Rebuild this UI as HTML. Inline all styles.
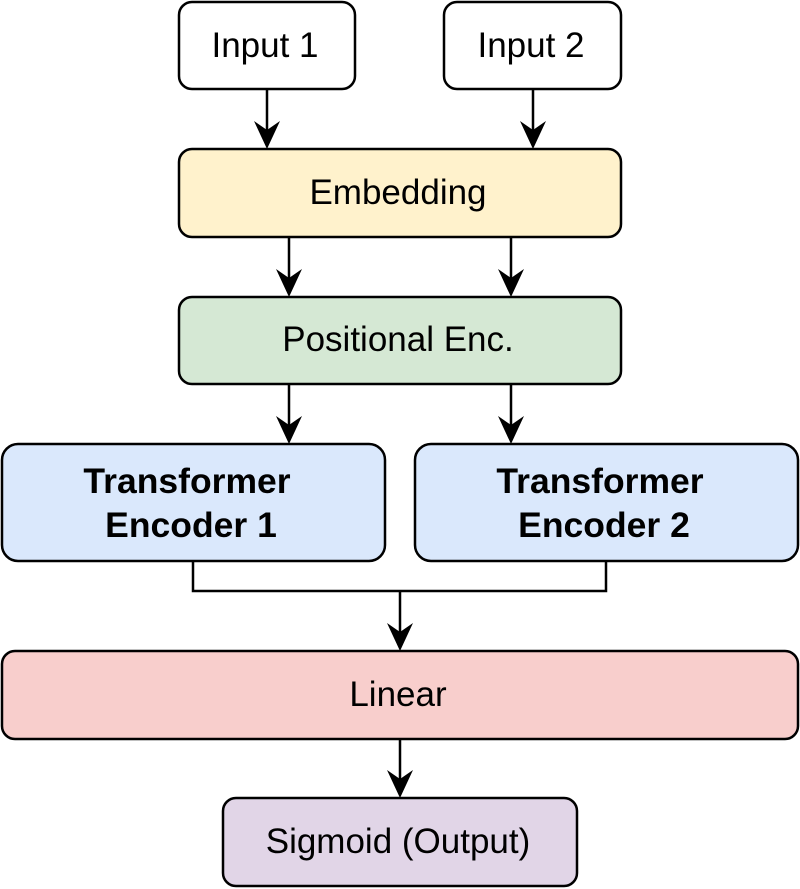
<!DOCTYPE html>
<html><head><style>html,body{margin:0;padding:0;background:#fff}svg{display:block}</style></head>
<body>
<svg width="800" height="889" viewBox="0 0 800 889" xmlns="http://www.w3.org/2000/svg" font-family="Liberation Sans, Arial, sans-serif">
<g stroke="#000" stroke-width="2.5">
<rect x="179" y="2" width="176" height="87" rx="13" fill="#fff"/>
<rect x="444" y="2" width="177" height="87" rx="13" fill="#fff"/>
<rect x="179" y="149" width="442" height="88" rx="13" fill="#fff2cc"/>
<rect x="179" y="297" width="442" height="87" rx="13" fill="#d5e8d4"/>
<rect x="2" y="444" width="383" height="117" rx="16" fill="#dae8fc"/>
<rect x="415" y="444" width="383" height="117" rx="16" fill="#dae8fc"/>
<rect x="2" y="651" width="796" height="88" rx="13" fill="#f8cecc"/>
<rect x="223" y="798" width="354" height="88" rx="13" fill="#e1d5e7"/>
<g fill="none">
<path d="M267 89V135M533 89V135M289 237V283M511 237V283M289 384V430M511 384V430M400 739V784"/>
<path d="M193 561V591H606V561M400 591V637"/>
</g>
</g>
<g fill="#000">
<path d="M267 149l-13-28 13 9 13-9z"/>
<path d="M533 149l-13-28 13 9 13-9z"/>
<path d="M289 297l-13-28 13 9 13-9z"/>
<path d="M511 297l-13-28 13 9 13-9z"/>
<path d="M289 444l-13-28 13 9 13-9z"/>
<path d="M511 444l-13-28 13 9 13-9z"/>
<path d="M400 651l-13-28 13 9 13-9z"/>
<path d="M400 798l-13-28 13 9 13-9z"/>
</g>
<g font-size="35" text-anchor="middle" fill="#000">
<text x="265" y="57">Input 1</text>
<text x="531" y="57">Input 2</text>
<text x="398" y="204">Embedding</text>
<text x="398" y="351">Positional Enc.</text>
<text x="398" y="706">Linear</text>
<text x="398" y="853">Sigmoid (Output)</text>
<g font-weight="bold" font-size="35.5">
<text x="187" y="493">Transformer</text>
<text x="191" y="537">Encoder 1</text>
<text x="600" y="493">Transformer</text>
<text x="604" y="537">Encoder 2</text>
</g>
</g>
</svg>
</body></html>
